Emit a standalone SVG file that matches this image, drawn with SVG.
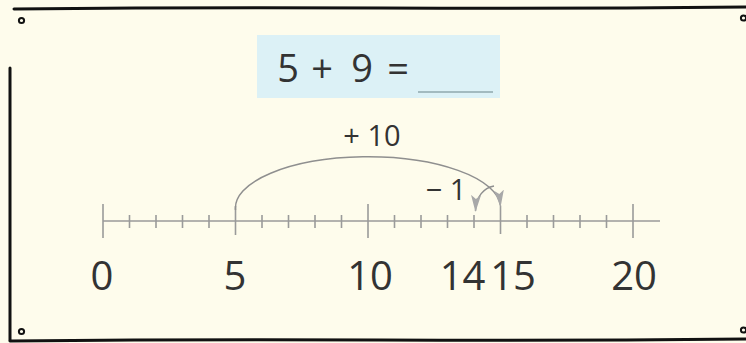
<svg xmlns="http://www.w3.org/2000/svg" width="746" height="343" viewBox="0 0 746 343">
<style>
.t{font-family:"Open Sans","Noto Sans","DejaVu Sans",sans-serif;fill:#333;text-anchor:middle}
.big{font-size:40px}
.eq{font-size:38px}
.lab{font-size:29px}
.nl{stroke:#9a9a9a;stroke-width:1.6;fill:none}
.tk{stroke:#9a9a9a;stroke-width:1.6}
.arc{stroke:#8f8f8f;stroke-width:1.5;fill:none}
.bd{stroke:#111;stroke-width:3;fill:none;stroke-linecap:round}
.gr{fill:none;stroke:#111;stroke-width:2}
</style>
<defs>
<marker id="ah2" viewBox="0 0 18 10" refX="16" refY="5" markerWidth="18" markerHeight="10" markerUnits="userSpaceOnUse" orient="auto">
<path d="M0,0 L17,5 L0,10 L4,5 z" fill="#a8a8a8"/>
</marker>
</defs>
<rect x="0" y="0" width="746" height="343" fill="#fefcec"/>
<g id="frame">
<path class="bd" d="M14 9 Q200 7 380 8 T746 7"/>
<path class="bd" d="M10 68 L10 340"/>
<path class="bd" d="M10 341 Q200 339 380 340 T746 339"/>
<circle class="gr" cx="21.5" cy="20.5" r="2.6"/>
<circle class="gr" cx="743.5" cy="18" r="2.6"/>
<circle class="gr" cx="21.5" cy="331.5" r="2.6"/>
<circle class="gr" cx="743.5" cy="330" r="2.6"/>
</g>
<g id="equation">
<rect x="257" y="35" width="243" height="63" fill="#dcf1f6"/>
<text class="t eq" x="288" y="82">5</text>
<text class="t eq" x="322" y="82">+</text>
<text class="t eq" x="362" y="82">9</text>
<text class="t eq" x="398" y="82">=</text>
<line x1="418" y1="92" x2="493" y2="92" stroke="#8fa7ad" stroke-width="1.5"/>
</g>
<g id="numberline">
<line class="nl" x1="103" y1="221" x2="660" y2="221"/>
<g class="tk">
<line x1="103" y1="204" x2="103" y2="238"/>
<line x1="368" y1="204" x2="368" y2="238"/>
<line x1="633" y1="204" x2="633" y2="238"/>
<line x1="235.5" y1="206" x2="235.5" y2="235"/>
<line x1="500.5" y1="206" x2="500.5" y2="234"/>
<line x1="129.5" y1="215" x2="129.5" y2="228"/>
<line x1="156" y1="215" x2="156" y2="228"/>
<line x1="182.5" y1="215" x2="182.5" y2="228"/>
<line x1="209" y1="215" x2="209" y2="228"/>
<line x1="262" y1="215" x2="262" y2="228"/>
<line x1="288.5" y1="215" x2="288.5" y2="228"/>
<line x1="315" y1="215" x2="315" y2="228"/>
<line x1="341.5" y1="215" x2="341.5" y2="228"/>
<line x1="394.5" y1="215" x2="394.5" y2="228"/>
<line x1="421" y1="215" x2="421" y2="228"/>
<line x1="447.5" y1="215" x2="447.5" y2="228"/>
<line x1="474" y1="215" x2="474" y2="228"/>
<line x1="527" y1="215" x2="527" y2="228"/>
<line x1="553.5" y1="215" x2="553.5" y2="228"/>
<line x1="580" y1="215" x2="580" y2="228"/>
<line x1="606.5" y1="215" x2="606.5" y2="228"/>
</g>
<text class="t big" x="102" y="290">0</text>
<text class="t big" x="235" y="290">5</text>
<text class="t big" x="370" y="290">10</text>
<text class="t big" x="462.5" y="290">14</text>
<text class="t big" x="513" y="290">15</text>
<text class="t big" x="634" y="290">20</text>
</g>
<g id="connectors">
<path class="arc" d="M235.5 210 A132 51 0 0 1 500.5 206" marker-end="url(#ah2)"/>
<path class="arc" d="M494 186 C484 188 476 196 475.5 211" marker-end="url(#ah2)"/>
</g>
<g id="labels">
<text class="t lab" x="372" y="146">+ 10</text>
<text class="t lab" x="446" y="200">− 1</text>
</g>
</svg>
